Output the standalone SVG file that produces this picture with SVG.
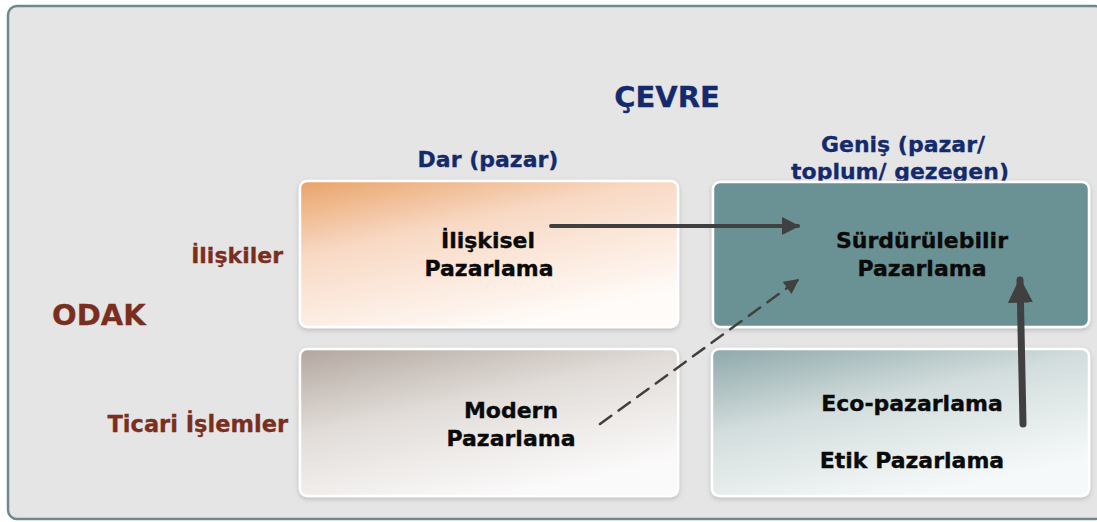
<svg xmlns="http://www.w3.org/2000/svg" width="1097" height="522" viewBox="0 0 1097 522">
<style>
.t{font-family:"DejaVu Sans",Verdana,sans-serif;font-weight:bold;}
.hdr{fill:#142a6c;font-size:22px;text-anchor:middle;stroke:#142a6c;stroke-width:0.3;}
.lbl{fill:#7a2e1f;font-size:22px;text-anchor:end;stroke:#7a2e1f;stroke-width:0.3;}
.nt{fill:#0a0a0a;font-size:22px;text-anchor:middle;stroke:#0a0a0a;stroke-width:0.35;}
.box{stroke:#ffffff;stroke-width:2.5;filter:url(#sh);}
.arr{stroke:#404040;fill:none;stroke-linecap:round;}
</style>
<defs>
<filter id="sh" x="-5%" y="-5%" width="110%" height="115%">
<feDropShadow dx="0" dy="2" stdDeviation="2.5" flood-color="#000" flood-opacity="0.18"/>
</filter>
<linearGradient id="g1" x1="0" y1="0" x2="0.55" y2="1">
<stop offset="0" stop-color="#e9a368"/>
<stop offset="0.4" stop-color="#f8d9c4"/>
<stop offset="1" stop-color="#fffbf8"/>
</linearGradient>
<linearGradient id="g3" x1="0" y1="0" x2="0.55" y2="1">
<stop offset="0" stop-color="#b2a79f"/>
<stop offset="0.45" stop-color="#e1dcd8"/>
<stop offset="1" stop-color="#fbfafa"/>
</linearGradient>
<linearGradient id="g4" x1="0" y1="0" x2="0.55" y2="1">
<stop offset="0" stop-color="#8ea8aa"/>
<stop offset="0.45" stop-color="#d3dddd"/>
<stop offset="1" stop-color="#f6f9f9"/>
</linearGradient>
<marker id="ah" viewBox="0 0 10 10" refX="9" refY="5" markerWidth="4.5" markerHeight="4.5" markerUnits="strokeWidth" orient="auto">
<path d="M0,0 L10,5 L0,10 Z" fill="#404040"/>
</marker>
<marker id="ahd" viewBox="0 0 10 10" refX="9" refY="5" markerWidth="7" markerHeight="6" markerUnits="strokeWidth" orient="auto">
<path d="M0,0 L10,5 L0,10 Z" fill="#404040"/>
</marker>
<marker id="ahv" viewBox="0 0 10 10" refX="9" refY="5" markerWidth="3.6" markerHeight="3.6" markerUnits="strokeWidth" orient="auto">
<path d="M0,0 L10,5 L0,10 Z" fill="#404040"/>
</marker>
</defs>
<rect x="8" y="6" width="1096" height="513" rx="9" fill="#e5e5e5" stroke="#6b8a8b" stroke-width="2.5"/>
<g id="headers" class="t">
<text class="hdr" x="667" y="107" style="font-size:29px">ÇEVRE</text>
<text class="hdr" x="488" y="167">Dar (pazar)</text>
<text class="hdr" x="903" y="152">Geniş (pazar/</text>
<text class="hdr" x="900" y="179">toplum/ gezegen)</text>
</g>
<g id="labels" class="t">
<text class="lbl" x="283" y="263">İlişkiler</text>
<text x="52" y="325" style="fill:#7a2e1f;font-size:29px;stroke:#7a2e1f;stroke-width:0.3">ODAK</text>
<text class="lbl" x="288" y="432" style="font-size:22.5px">Ticari İşlemler</text>
</g>
<g id="n1">
<rect class="box" x="300" y="181" width="378" height="146" rx="7" fill="url(#g1)"/>
<text class="t nt" x="488" y="248">İlişkisel</text>
<text class="t nt" x="489" y="276">Pazarlama</text>
</g>
<g id="n2">
<rect class="box" x="713" y="182" width="376" height="145" rx="7" fill="#6a9294"/>
<text class="t nt" x="922" y="248">Sürdürülebilir</text>
<text class="t nt" x="922" y="276">Pazarlama</text>
</g>
<g id="n3">
<rect class="box" x="300" y="349" width="378" height="147" rx="7" fill="url(#g3)"/>
<text class="t nt" x="511" y="418">Modern</text>
<text class="t nt" x="511" y="446">Pazarlama</text>
</g>
<g id="n4">
<rect class="box" x="712" y="349" width="377" height="147" rx="7" fill="url(#g4)"/>
<text class="t nt" x="912" y="411">Eco-pazarlama</text>
<text class="t nt" x="912" y="468">Etik Pazarlama</text>
</g>
<g id="connectors">
<line class="arr" x1="551" y1="226" x2="798" y2="226" stroke-width="4" marker-end="url(#ah)"/>
<line class="arr" x1="600" y1="424" x2="798" y2="280" stroke-width="2.5" stroke-dasharray="14 9" stroke-linecap="butt" marker-end="url(#ahd)"/>
<line class="arr" x1="1023" y1="424" x2="1020" y2="280" stroke-width="7" marker-end="url(#ahv)"/>
</g>
</svg>
